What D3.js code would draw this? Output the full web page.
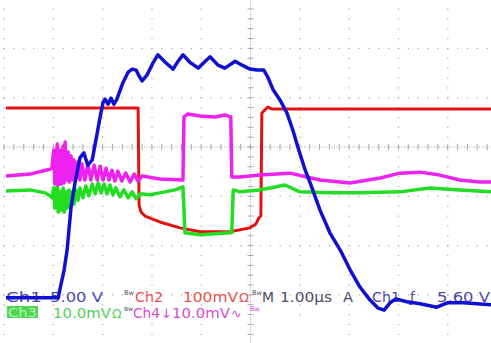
<!DOCTYPE html>
<html><head><meta charset="utf-8">
<script src="https://cdn.jsdelivr.net/npm/d3@7"></script>
<style>body{margin:0;background:#fff}svg{display:block}</style>
</head><body><svg id="c" width="491" height="343"></svg>
<script>
// time in µs (M 1.00µs/div), level in screen divisions from centre
const ch1Time = [0.04,1.10,1.14,1.22,1.28,1.36,1.44,1.54,1.62,1.70,1.79,1.89,1.95,2.01,2.05,2.11,2.17,2.23,2.29,2.41,2.52,2.60,2.68,2.74,2.80,2.90,3.02,3.12,3.27,3.43,3.53,3.63,3.77,3.94,4.04,4.18,4.34,4.48,4.69,4.83,4.99,5.13,5.27,5.35,5.46,5.60,5.74,5.86,5.96,6.11,6.21,6.41,6.61,6.82,7.02,7.22,7.42,7.59,7.71,7.83,7.95,8.17,8.44,8.78,8.99,9.31,9.88];
const ch1Div  = [-3.06,-3.06,-2.86,-2.49,-2.09,-1.22,-0.73,-0.22,-0.12,-0.37,-0.26,0.28,0.61,0.91,0.97,0.87,0.99,0.87,0.97,1.30,1.52,1.58,1.56,1.44,1.34,1.46,1.70,1.87,1.72,1.58,1.74,1.87,1.72,1.60,1.70,1.83,1.66,1.60,1.74,1.66,1.58,1.56,1.56,1.42,1.16,0.95,0.69,0.34,0.00,-0.47,-0.73,-1.28,-1.74,-2.09,-2.49,-2.84,-3.10,-3.27,-3.31,-3.16,-3.08,-3.14,-3.18,-3.25,-3.16,-3.16,-3.20];

const ch2Time = [0.04,2.72,2.74,2.78,2.86,3.16,3.57,3.98,4.58,4.99,5.11,5.17,5.21,5.23,5.29,5.35,5.44,9.88];
const ch2Div  = [0.79,0.79,-1.18,-1.32,-1.40,-1.52,-1.64,-1.72,-1.72,-1.64,-1.56,-1.44,-1.40,0.69,0.75,0.81,0.77,0.77];

const ch3Time = [0.04,0.53,0.83,0.93,0.97,1.01,1.03,1.08,1.10,1.14,1.16,1.20,1.22,1.26,1.28,1.32,1.34,1.38,1.42,1.46,1.50,1.54,1.60,1.66,1.72,1.79,1.85,1.91,1.97,2.03,2.09,2.15,2.21,2.27,2.35,2.43,2.52,2.60,2.68,2.76,2.96,3.16,3.47,3.63,3.67,3.98,4.28,4.58,4.62,4.65,4.79,5.19,5.40,5.70,6.00,6.61,7.22,8.03,8.64,9.25,9.88];
const ch3Div  = [-0.89,-0.87,-0.93,-0.99,-1.03,-0.83,-1.24,-0.79,-1.32,-0.91,-1.28,-0.83,-1.32,-0.91,-1.24,-0.87,-1.20,-0.91,-1.16,-0.87,-1.08,-0.83,-1.03,-0.79,-0.99,-0.75,-0.95,-0.73,-0.93,-0.75,-0.95,-0.77,-0.97,-0.83,-1.01,-0.87,-1.03,-0.91,-1.05,-0.95,-0.97,-0.93,-0.87,-0.81,-1.74,-1.78,-1.76,-1.74,-1.74,-0.87,-0.91,-0.87,-0.83,-0.77,-0.91,-0.93,-0.93,-0.91,-0.83,-0.87,-0.91];

const ch4Time = [0.04,0.53,0.93,0.97,1.01,1.03,1.08,1.10,1.14,1.16,1.20,1.22,1.24,1.26,1.30,1.32,1.36,1.38,1.42,1.46,1.50,1.54,1.58,1.64,1.70,1.76,1.83,1.89,1.95,2.01,2.07,2.13,2.19,2.25,2.31,2.39,2.47,2.56,2.64,2.72,2.80,3.16,3.63,3.65,3.73,3.98,4.28,4.48,4.60,4.62,4.79,5.19,5.80,6.41,7.02,7.63,8.03,8.44,8.84,9.25,9.65,9.88];
const ch4Div  = [-0.59,-0.55,-0.45,-0.43,-0.06,-0.75,0.06,-0.77,-0.06,-0.75,0.02,-0.73,0.10,-0.67,-0.10,-0.71,-0.18,-0.67,-0.26,-0.63,-0.30,-0.67,-0.34,-0.67,-0.34,-0.67,-0.37,-0.67,-0.39,-0.67,-0.43,-0.67,-0.47,-0.69,-0.49,-0.69,-0.53,-0.71,-0.55,-0.69,-0.59,-0.65,-0.67,0.61,0.67,0.63,0.61,0.65,0.61,-0.61,-0.61,-0.57,-0.53,-0.67,-0.73,-0.63,-0.53,-0.51,-0.57,-0.67,-0.71,-0.71];

const line1Labels = ["Ch1","5.00 V","Bw","Ch2","100mV","Ω","Bw","M","1.00µs","A","Ch1","ƒ","5.60 V"];
const line2Labels = ["Ch3","10.0mV","Ω","Bw","Ch4","↓","10.0mV","∿","Bw"];

const svg = d3.select("#c");
const DIV = 49.3;
const x = d3.scaleLinear().domain([0,10]).range([4, 4+10*DIV]);
const y = d3.scaleLinear().domain([-4,3]).range([147+4*DIV, 147-3*DIV]);

svg.append("rect").attr("width",491).attr("height",343).attr("fill","#fff");

// grid
const g = svg.append("g");
const gridCol = "#a8a8a8";
const xTicks = d3.range(0,11), yTicks = d3.range(-4,4);
const sub = d3.range(0,10.001,0.2);
const subY = d3.range(-4,3.001,0.2);
xTicks.forEach(i=>{
  if(i===5) return;
  subY.forEach(v=>g.append("rect").attr("x",x(i)-0.5).attr("y",y(v)-0.5).attr("width",1.2).attr("height",1.2).attr("fill",gridCol));
});
yTicks.forEach(j=>{
  if(j===0) return;
  sub.forEach(t=>g.append("rect").attr("x",x(t)-0.5).attr("y",y(j)-0.5).attr("width",1.2).attr("height",1.2).attr("fill",gridCol));
});
g.append("line").attr("x1",x(0)).attr("x2",x(10)).attr("y1",y(0)).attr("y2",y(0))
 .attr("stroke",gridCol).attr("stroke-width",1).attr("stroke-dasharray","1,1.5");
g.append("line").attr("x1",x(5)).attr("x2",x(5)).attr("y1",y(3)).attr("y2",y(-4))
 .attr("stroke",gridCol).attr("stroke-width",1).attr("stroke-dasharray","1,1.5");
sub.forEach(t=>g.append("line").attr("x1",x(t)).attr("x2",x(t)).attr("y1",y(0)-3).attr("y2",y(0)+3).attr("stroke",gridCol).attr("stroke-width",1));
subY.forEach(v=>g.append("line").attr("x1",x(5)-3).attr("x2",x(5)+3).attr("y1",y(v)).attr("y2",y(v)).attr("stroke",gridCol).attr("stroke-width",1));

// erased patches
svg.append("ellipse").attr("cx",76).attr("cy",0).attr("rx",28).attr("ry",9).attr("fill","#fff");
svg.append("rect").attr("x",262).attr("y",324).attr("width",83).attr("height",19).attr("fill","#fff");

// readout text
const fnt = "'DejaVu Sans', sans-serif";
function txt(s,xp,yp,col,size,len){
  const t = svg.append("text").attr("x",xp).attr("y",yp).attr("fill",col)
    .attr("font-family",fnt).attr("font-size",size||13.5).text(s);
  if(len) t.attr("textLength",len).attr("lengthAdjust","spacingAndGlyphs");
  return t;
}
const b1 = 301.5, b2 = 317.5;
const blueT = "#4848b0", redT = "#e45050", greyT = "#4c4c66", greenT = "#56d056", magT = "#d44ed4";
txt(line1Labels[0],6,b1,blueT,13.5,36);
txt(line1Labels[1],50,b1,blueT,13.5,53);
txt(line1Labels[2],124,b1-7,greyT,6.5);
txt(line1Labels[3],135,b1,redT,13.5,28);
txt(line1Labels[4],183,b1,redT,13.5,55);
txt(line1Labels[5],239,b1,redT,13);
txt(line1Labels[6],252,b1-7,greyT,6.5);
txt(line1Labels[7],262,b1,greyT,13.5,12);
txt(line1Labels[8],280,b1,greyT,13.5,52);
txt(line1Labels[9],343,b1,greyT,13.5,10);
txt(line1Labels[10],372,b1,blueT,13.5,28);
txt(line1Labels[11],410,b1,blueT,13.5);
txt(line1Labels[12],437,b1,blueT,13.5,53);

svg.append("rect").attr("x",7).attr("y",306).attr("width",31).attr("height",12).attr("fill","#4fd64f");
txt(line2Labels[0],8,b2-0.5,"#b8f4b8",12.5,29);
txt(line2Labels[1],53,b2,greenT,13.5,58);
txt(line2Labels[2],112,b2,greenT,12.5);
txt(line2Labels[3],124,b2-7,greyT,6);
txt(line2Labels[4],133,b2,magT,13.5,27);
txt(line2Labels[5],161,b2,magT,13);
txt(line2Labels[6],172,b2,magT,13.5,58);
txt(line2Labels[7],231,b2,magT,12.5);
txt(line2Labels[8],250,b2-7,magT,6.5);

// traces
function trace(T,V,col,w){
  const data = T.map((t,i)=>[t,V[i]]);
  const ln = d3.line().x(d=>x(d[0])).y(d=>y(d[1]));
  svg.append("path").datum(data).attr("d",ln).attr("fill","none")
    .attr("stroke",col).attr("stroke-width",w).attr("stroke-linejoin","round");
}
trace(ch2Time,ch2Div,"#e21212",3);
trace(ch3Time,ch3Div,"#22dd22",3.5);
trace(ch4Time,ch4Div,"#ee22ee",3.5);
trace(ch1Time,ch1Div,"#1010d0",3.5);
</script></body></html>
